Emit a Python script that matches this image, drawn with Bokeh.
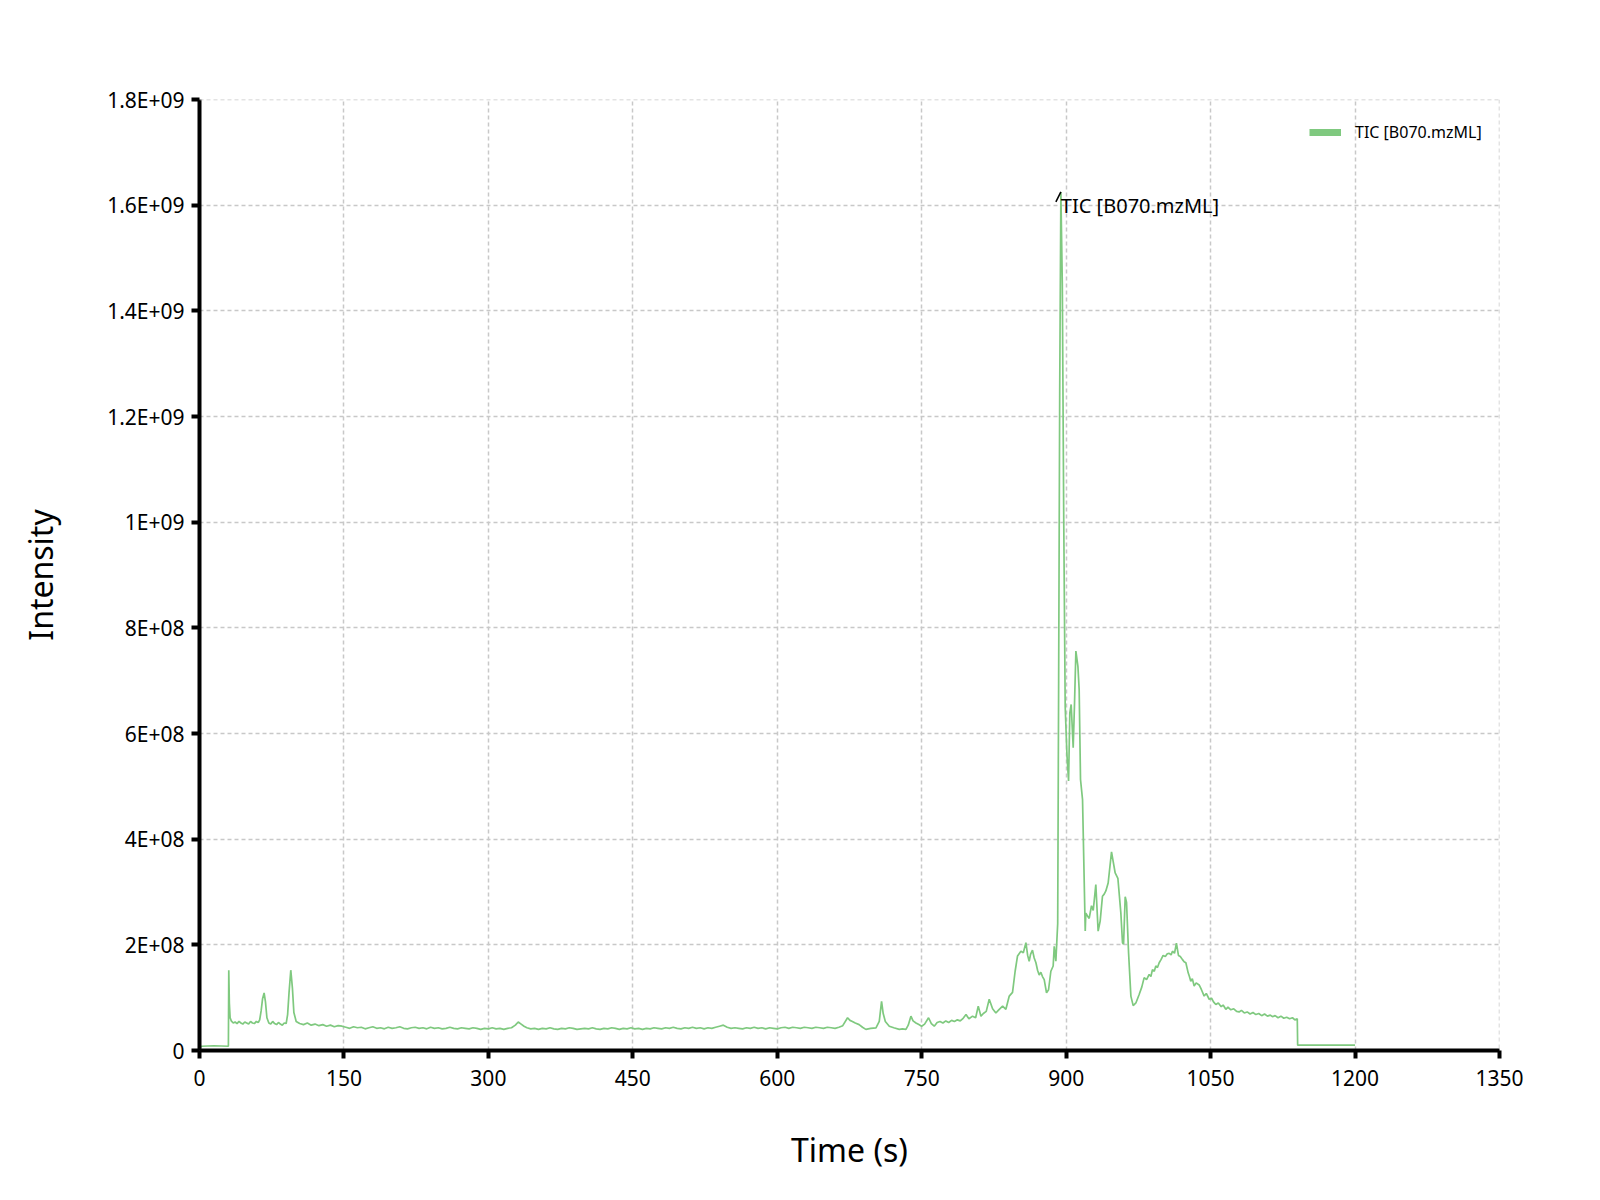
import numpy as np
from bokeh.plotting import figure
from bokeh.models import Range1d, FixedTicker, Legend, LegendItem, Span
from bokeh.core.properties import value
from bokeh.embed import file_html
from bokeh.resources import INLINE

# TIC chromatogram: time in s, intensity in units of 1e6
scan_time = [
    0, 2, 15, 30, 30.4, 31.0, 31.8, 33, 35, 37, 39, 41, 43, 45, 47, 49, 51, 53, 55, 57, 59, 61,
    62.5, 64, 65.5, 67.1, 68.5, 70, 72, 74, 76, 78, 80, 82, 84, 86, 88, 90, 91.5, 93, 94.8, 96.5,
    98, 100.4,
    104, 108, 112, 116, 120, 124, 128, 132, 136, 140, 144, 148,
    152, 156, 160, 164, 168, 172, 176, 180, 184, 188, 192, 196, 200, 204, 208, 212, 216, 220,
    224, 228, 232, 236, 240, 244, 248, 252, 256, 260, 264, 268, 272, 276, 280, 284, 288, 292,
    296, 300, 304, 308, 312, 316, 320,
    324, 328, 331, 334, 337, 340,
    344, 348, 352, 356, 360, 364, 368, 372, 376, 380, 384, 388, 392, 396, 400, 404, 408, 412,
    416, 420, 424, 428, 432, 436, 440, 444, 448, 452, 456, 460, 464, 468, 472, 476, 480, 484,
    488, 492, 496, 500, 504, 508, 512, 516, 520, 524, 528, 532, 536, 540, 544, 548, 552, 556,
    560, 564, 568, 572, 576, 580, 584, 588, 592, 596, 600, 604, 608, 612, 616, 620, 624, 628,
    632, 636, 640, 644, 648, 652, 656, 660,
    664, 668, 673, 675.5, 678, 681, 685, 688.5, 692, 697, 702.5, 705.9, 708.3, 710, 712.2,
    716.3, 721, 726.7, 730, 733.6, 736, 738.8, 741, 744, 747, 749.9, 753, 757.1, 760, 763, 766,
    769, 772, 775, 778, 781, 784, 787, 790, 793, 796, 799, 802.8, 806, 808.7, 811.5, 814, 817,
    820.1, 823.6, 827, 830, 834, 837.4, 840.9, 844.3, 847, 849.5, 853, 855.5, 858.2, 860,
    861.6, 863, 865, 866.8, 868.6, 870.3, 872, 873.7, 875.4, 877.2, 879.6, 881.7, 884.1, 886.5,
    887.6, 889.3, 890.4, 891.2, 892.2, 893.3, 894.5, 896, 897.5, 899, 900.8, 902.5, 903.8,
    905.2, 907.3, 908.7, 910.1, 912.2, 913.5, 914.9, 917, 919.8, 920.4, 922, 923.9, 926.3,
    928.1, 930.8, 933.2, 935.3, 937.7, 939.5, 941.2, 943.6, 947.1, 948.8, 950.9, 953.7, 956.8,
    958.5, 959.6, 961.3, 962.7, 964.8, 967.2, 969.6, 972.4, 975.8, 978.5, 981, 983.5, 986.2,
    988, 989.6, 991.5, 993.1, 994.8, 996.6, 998.5, 1000.7, 1003, 1005, 1007, 1009, 1010.4,
    1012.5, 1014.5, 1016.6, 1018.5, 1020.8, 1022.5, 1024.3, 1026.7, 1028, 1029.4, 1031, 1032.9,
    1035, 1038.1, 1040.5, 1043.3, 1045.5, 1048.5, 1051, 1053, 1055.4, 1058, 1061, 1063, 1065.8,
    1068, 1071, 1074, 1077, 1079.6, 1082, 1085, 1088, 1091, 1094, 1097, 1100, 1103, 1106, 1109,
    1112, 1114.2, 1117, 1120, 1123, 1126, 1129, 1132, 1135, 1137.5, 1140, 1140.4, 1200,
]
tic_e6 = [
    4, 8, 9, 8, 152, 90, 62, 56, 52, 54, 51, 55, 52, 50, 54, 52, 50, 55, 52, 51, 55, 53,
    58, 75, 98, 109, 92, 62, 52, 50, 55, 51, 49, 53, 50, 48, 52, 51, 68, 110, 152, 118,
    72, 55,
    51, 49, 52, 48, 50, 47, 49, 46, 48, 45, 47, 46,
    44, 42, 45, 43, 44, 41, 43, 45, 42, 43, 41, 44, 42, 43, 45, 42, 41, 43,
    44, 42, 43, 41, 44, 42, 43, 41, 42, 44, 42, 41, 43, 42, 41, 43, 42, 40,
    42, 41, 43, 41, 42, 40, 42,
    43, 48, 54, 50, 46, 43,
    41, 42, 40, 42, 41, 43, 41, 40, 42, 41, 43, 42, 40, 41, 42, 41, 43, 41,
    40, 42, 41, 43, 42, 40, 42, 41, 43, 41, 42, 40, 42, 41, 43, 42, 41, 43,
    42, 44, 42, 41, 43, 42, 44, 42, 43, 41, 43, 42, 44, 46, 48, 44, 42, 43,
    42, 41, 43, 42, 44, 42, 43, 41, 43, 42, 41, 43, 44, 42, 44, 43, 42, 44,
    43, 42, 44, 43, 42, 44, 43, 42,
    44, 47, 62, 57, 55, 52, 49, 44, 40, 42, 43, 55, 93, 70, 55,
    46, 43, 40, 41, 40, 48, 65, 56, 52, 49, 46, 50, 62, 51, 46, 53,
    55, 52, 56, 53, 57, 55, 58, 56, 61, 68, 60, 65, 62, 84, 65, 70, 74,
    97, 79, 71, 77, 84, 78, 103, 110, 150, 179, 188, 185, 204, 180,
    169, 182, 190, 175, 166, 152, 143, 148, 140, 134, 109, 115, 150, 160,
    197, 169, 210, 240, 700, 1250, 1625, 1450, 1000, 650, 560, 510, 639,
    655, 573, 658, 756, 727, 683, 513, 475, 226, 260, 255, 250, 274,
    265, 314, 226, 245, 292, 296, 302, 317, 376, 358, 336, 326, 260,
    204, 201, 291, 280, 185, 103, 85, 90, 106, 120, 138, 134, 144,
    140, 153, 150, 160, 157, 166, 172, 180, 178, 183, 184, 181, 188,
    184, 203, 180, 178, 172, 168, 166, 147, 140, 131, 136, 122,
    128, 124, 115, 103, 108, 97, 99, 92, 87, 90, 83, 86, 78,
    82, 77, 79, 74, 73, 76, 71, 73, 69, 72, 68, 70, 66, 69, 65,
    67, 64, 66, 62, 65, 61, 63, 60, 62, 58, 60, 10, 10,
]
series_name = "TIC [B070.mzML]"

x_ticks = [0, 150, 300, 450, 600, 750, 900, 1050, 1200, 1350]
y_ticks = [0, 2e8, 4e8, 6e8, 8e8, 1e9, 1.2e9, 1.4e9, 1.6e9, 1.8e9]
y_tick_labels = ["0", "2E+08", "4E+08", "6E+08", "8E+08", "1E+09",
                 "1.2E+09", "1.4E+09", "1.6E+09", "1.8E+09"]

GREEN = "#7fc97f"
FONT = "Noto Sans"
GRID = "#c8c8c8"

t = np.array(scan_time, dtype=float)
tic = np.array(tic_e6, dtype=float) * 1e6

p = figure(frame_width=1300, frame_height=951,
           min_border_left=199, min_border_right=85,
           min_border_top=99, min_border_bottom=130,
           x_range=Range1d(0, 1350), y_range=Range1d(0, 1.8e9),
           output_backend="svg", toolbar_location=None, tools="")
p.outline_line_color = None
p.background_fill_color = "white"
p.border_fill_color = "white"

line = p.line(t, tic, line_color=GREEN, line_width=1.7)

# peak label at the apex
i_max = int(np.argmax(tic))
px_to_s = 1350 / 1300
px_to_int = 1.8e9 / 951
p.segment(x0=[t[i_max] - 5 * px_to_s], y0=[tic[i_max] - 10 * px_to_int],
          x1=[t[i_max]], y1=[tic[i_max]], line_color="black", line_width=1.5)
p.text(x=[t[i_max]], y=[tic[i_max]], text=[series_name],
       text_font=value(FONT), text_font_size="20px", text_color="black",
       text_align="left", text_baseline="top")

# legend swatch: a thick line renderer carrying a single point (draws nothing itself)
legend_line = p.line(t[:1], tic[:1], line_color=GREEN, line_width=7)
legend = Legend(items=[LegendItem(label=series_name, renderers=[legend_line])],
                location=(1110, 907), margin=0, padding=0,
                border_line_color=None, background_fill_alpha=0,
                glyph_width=32, glyph_height=20, label_height=20,
                label_standoff=14, label_text_font=FONT,
                label_text_font_size="16px", label_text_color="black")
p.add_layout(legend)

for ax in (p.xaxis[0], p.yaxis[0]):
    ax.axis_line_width = 4
    ax.axis_line_color = "black"
    ax.major_tick_line_width = 4
    ax.major_tick_line_color = "black"
    ax.major_tick_in = 0
    ax.major_tick_out = 8
    ax.minor_tick_line_color = None
    ax.major_label_text_font = FONT
    ax.major_label_text_font_size = "21px"
    ax.major_label_text_color = "black"
    ax.axis_label_text_font = FONT
    ax.axis_label_text_font_size = "32px"
    ax.axis_label_text_font_style = "normal"
    ax.axis_label_text_color = "black"

p.xaxis.ticker = FixedTicker(ticks=x_ticks)
p.yaxis.ticker = FixedTicker(ticks=y_ticks)
p.yaxis.major_label_overrides = {v: s for v, s in zip(y_ticks, y_tick_labels)}
p.xaxis.axis_label = "Time (s)"
p.yaxis.axis_label = "Intensity"
p.xaxis.major_label_standoff = 11
p.yaxis.major_label_standoff = 7
p.xaxis.axis_label_standoff = 39
p.yaxis.axis_label_standoff = 42

p.xgrid.ticker = FixedTicker(ticks=x_ticks)
p.ygrid.ticker = FixedTicker(ticks=y_ticks)
for g in (p.xgrid[0], p.ygrid[0]):
    g.grid_line_color = GRID
    g.grid_line_width = 1.5
    g.grid_line_dash = "4 3"

# grid lines at the far ends of both ranges (the Grid skips the range bounds)
p.add_layout(Span(location=x_ticks[-1], dimension="height", line_color=GRID,
                  line_width=1.5, line_dash="4 3"))
p.add_layout(Span(location=y_ticks[-1], dimension="width", line_color=GRID,
                  line_width=1.5, line_dash="4 3"))

open("out.html", "w").write(file_html(p, INLINE))
